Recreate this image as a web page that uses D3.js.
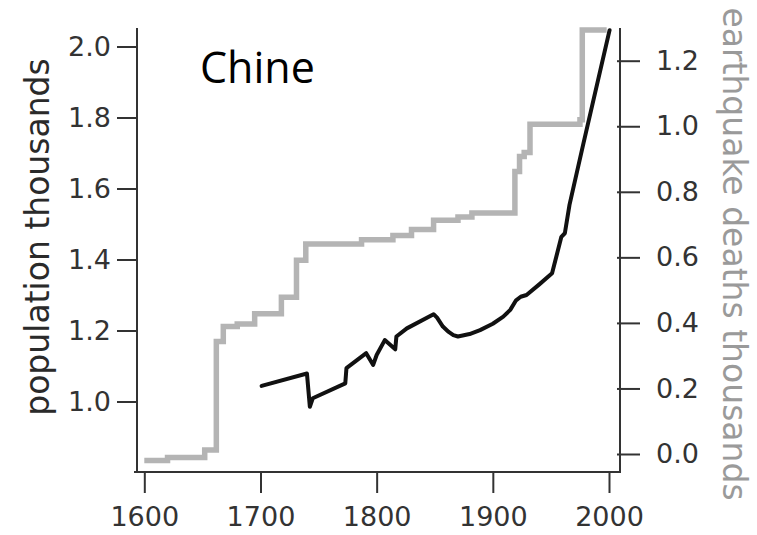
<!DOCTYPE html>
<html><head><meta charset="utf-8">
<script src="https://cdn.jsdelivr.net/npm/d3@7"></script>
<style>
html,body{margin:0;padding:0;background:#fff;}
svg{display:block;}
</style></head>
<body>
<svg id="chart" width="757" height="535"></svg>
<script>
// ---- data ----
const chartTitle = "Chine";
const leftLabel = "population thousands";
const rightLabel = "earthquake deaths thousands";
const xTicks = [1600, 1700, 1800, 1900, 2000];
const leftTicks = [1.0, 1.2, 1.4, 1.6, 1.8, 2.0];
const rightTicks = [0.0, 0.2, 0.4, 0.6, 0.8, 1.0, 1.2];

// cumulative earthquake deaths (thousands), step series, right axis
const quakeYears = [1600, 1620, 1652, 1662, 1668, 1680, 1695, 1718, 1731, 1739, 1787, 1814, 1830, 1849, 1870, 1882, 1919, 1923, 1927, 1932, 1975, 1977, 1998];
const quakeDeaths = [-0.020, -0.011, 0.012, 0.343, 0.389, 0.397, 0.428, 0.478, 0.591, 0.641, 0.654, 0.667, 0.685, 0.713, 0.723, 0.735, 0.862, 0.908, 0.920, 1.006, 1.020, 1.294, 1.294];

// population (thousands), left axis
const popYears = [1701, 1740, 1742.5, 1745, 1773, 1774, 1791, 1797, 1800, 1807, 1816, 1817, 1826, 1849, 1852, 1857, 1862, 1866, 1870, 1880, 1889, 1900, 1909, 1915, 1920, 1924, 1929, 1940, 1951, 1959, 1962, 1966, 1978, 2000.5];
const popValues = [1.044, 1.079, 0.985, 1.009, 1.051, 1.094, 1.136, 1.103, 1.131, 1.173, 1.147, 1.183, 1.206, 1.246, 1.236, 1.211, 1.196, 1.187, 1.183, 1.190, 1.201, 1.219, 1.239, 1.258, 1.285, 1.295, 1.300, 1.330, 1.361, 1.464, 1.474, 1.554, 1.727, 2.046];

// ---- layout ----
const svg = d3.select("#chart");
const frame = {left: 137, right: 620, top: 28, bottom: 472};

const x = d3.scaleLinear().domain([1600, 2000]).range([144.3, 609]);
const yL = d3.scaleLinear().domain([1.0, 2.0]).range([401.5, 46.5]);
const yR = d3.scaleLinear().domain([0.0, 1.2]).range([454, 60.7]);

const axisColor = "#333";
const tickFont = "DejaVu Sans, Verdana, sans-serif";

// gray step line
const quake = quakeYears.map((d, i) => ({x: d, y: quakeDeaths[i]}));
svg.append("path")
  .datum(quake)
  .attr("fill", "none")
  .attr("stroke", "#b4b4b4")
  .attr("stroke-width", 5.5)
  .attr("stroke-linejoin", "miter")
  .attr("d", d3.line().x(d => x(d.x)).y(d => yR(d.y)).curve(d3.curveStepAfter));

// black population line
const pop = popYears.map((d, i) => ({x: d, y: popValues[i]}));
svg.append("path")
  .datum(pop)
  .attr("fill", "none")
  .attr("stroke", "#111")
  .attr("stroke-width", 4)
  .attr("stroke-linejoin", "round")
  .attr("stroke-linecap", "round")
  .attr("d", d3.line().x(d => x(d.x)).y(d => yL(d.y)));

// frame lines (axis domains)
const frameG = svg.append("g").attr("stroke", axisColor).attr("stroke-width", 2).attr("fill", "none");
frameG.append("line").attr("x1", frame.left).attr("x2", frame.left).attr("y1", frame.top).attr("y2", frame.bottom + 1);
frameG.append("line").attr("x1", frame.right).attr("x2", frame.right).attr("y1", frame.top).attr("y2", frame.bottom + 1);
frameG.append("line").attr("x1", frame.left - 3).attr("x2", frame.right + 1).attr("y1", frame.bottom).attr("y2", frame.bottom);

// axes
function styleAxis(g) {
  g.select(".domain").remove();
  g.selectAll(".tick line").attr("stroke", axisColor).attr("stroke-width", 2);
  g.selectAll(".tick text").attr("fill", "#333").attr("font-family", tickFont).attr("font-size", 27);
}

svg.append("g")
  .attr("transform", `translate(0,${frame.bottom})`)
  .call(d3.axisBottom(x).tickValues(xTicks).tickFormat(d3.format("d")).tickSize(21).tickPadding(14))
  .call(styleAxis);

svg.append("g")
  .attr("transform", `translate(${frame.left},0)`)
  .call(d3.axisLeft(yL).tickValues(leftTicks).tickFormat(d3.format(".1f")).tickSize(20).tickPadding(6))
  .call(styleAxis);

const gR = svg.append("g")
  .attr("transform", `translate(${frame.right},0)`)
  .call(d3.axisRight(yR).tickValues(rightTicks).tickFormat(d3.format(".1f")).tickSize(20).tickPadding(16))
  .call(styleAxis);
gR.selectAll(".tick line").attr("x1", -3);

// axis labels
svg.append("text")
  .attr("transform", `translate(49,237) rotate(-90)`)
  .attr("text-anchor", "middle")
  .attr("font-family", tickFont)
  .attr("font-size", 33)
  .attr("fill", "#2a2a2a")
  .text(leftLabel);

svg.append("text")
  .attr("transform", `translate(723,254) rotate(90)`)
  .attr("text-anchor", "middle")
  .attr("font-family", tickFont)
  .attr("font-size", 33)
  .attr("fill", "#9a9a9a")
  .text(rightLabel);

// title
svg.append("text")
  .attr("x", 200)
  .attr("y", 82.5)
  .attr("font-family", "Open Sans, Lato, sans-serif")
  .attr("font-size", 43)
  .attr("fill", "#000")
  .text(chartTitle);
</script>
</body></html>
